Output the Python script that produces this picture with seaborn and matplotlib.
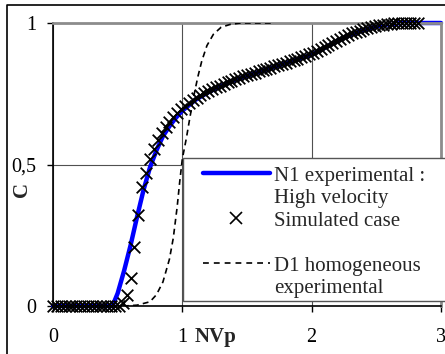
import matplotlib
matplotlib.use("Agg")
import matplotlib.pyplot as plt
from matplotlib.lines import Line2D
from matplotlib.patches import Rectangle
import seaborn as sns

# N1 experimental curve (high velocity)
n1_nvp = [0.00, 0.46, 0.50, 0.55, 0.60, 0.65, 0.70, 0.75, 0.80, 0.85, 0.90,
          0.95, 1.00, 1.10, 1.20, 1.30, 1.40, 1.50, 1.60, 1.70, 1.80, 1.90,
          2.00, 2.10, 2.20, 2.30, 2.40, 2.50, 2.60, 2.70, 3.00]
n1_c = [0.000, 0.000, 0.045, 0.125, 0.215, 0.315, 0.410, 0.490, 0.550, 0.600,
        0.635, 0.665, 0.690, 0.728, 0.755, 0.778, 0.797, 0.813, 0.828, 0.843,
        0.858, 0.873, 0.888, 0.912, 0.937, 0.958, 0.975, 0.988, 0.996, 1.000,
        1.000]

# Simulated case
sim_nvp = [0.00, 0.03, 0.06, 0.09, 0.12, 0.15, 0.18, 0.21, 0.24, 0.27, 0.30,
           0.33, 0.36, 0.39, 0.42, 0.45, 0.48, 0.51, 0.54, 0.57, 0.60, 0.63,
           0.66, 0.69, 0.72, 0.75, 0.78, 0.81, 0.84, 0.87, 0.90, 0.93, 0.96,
           0.99, 1.02, 1.05, 1.08, 1.11, 1.14, 1.17, 1.20, 1.23, 1.26, 1.29,
           1.32, 1.35, 1.38, 1.41, 1.44, 1.47, 1.50, 1.53, 1.56, 1.59, 1.62,
           1.65, 1.68, 1.71, 1.74, 1.77, 1.80, 1.83, 1.86, 1.89, 1.92, 1.95,
           1.98, 2.01, 2.04, 2.07, 2.10, 2.13, 2.16, 2.19, 2.22, 2.25, 2.28,
           2.31, 2.34, 2.37, 2.40, 2.43, 2.46, 2.49, 2.52, 2.55, 2.58, 2.61,
           2.64, 2.67, 2.70, 2.73, 2.76, 2.79, 2.82]
sim_c = [0.000, 0.000, 0.000, 0.000, 0.000, 0.000, 0.000, 0.000, 0.000, 0.000,
         0.000, 0.000, 0.000, 0.000, 0.000, 0.000, 0.000, 0.000, 0.010, 0.040,
         0.100, 0.210, 0.320, 0.420, 0.470, 0.520, 0.555, 0.585, 0.610, 0.632,
         0.650, 0.667, 0.682, 0.697, 0.708, 0.718, 0.728, 0.736, 0.744, 0.752,
         0.759, 0.766, 0.773, 0.779, 0.785, 0.791, 0.796, 0.801, 0.806, 0.811,
         0.815, 0.820, 0.824, 0.829, 0.833, 0.838, 0.842, 0.847, 0.851, 0.856,
         0.860, 0.865, 0.869, 0.874, 0.879, 0.884, 0.889, 0.895, 0.902, 0.909,
         0.916, 0.924, 0.931, 0.938, 0.945, 0.951, 0.957, 0.963, 0.968, 0.973,
         0.978, 0.982, 0.986, 0.989, 0.992, 0.994, 0.996, 0.998, 0.999, 1.000,
         1.000, 1.000, 1.000, 1.000, 1.000]

# D1 homogeneous experimental curve
d1_nvp = [0.00, 0.55, 0.65, 0.75, 0.80, 0.85, 0.90, 0.93, 0.96, 0.98, 1.00,
          1.03, 1.06, 1.09, 1.12, 1.15, 1.19, 1.24, 1.30, 1.37, 1.45, 1.70]
d1_c = [0.000, 0.000, 0.003, 0.015, 0.040, 0.085, 0.165, 0.240, 0.350, 0.440,
        0.520, 0.590, 0.670, 0.745, 0.810, 0.865, 0.920, 0.960, 0.985, 0.995,
        1.000, 1.000]

x_ticks = [0, 1, 2, 3]
x_tick_labels = ["0", "1", "2", "3"]
y_ticks = [0, 0.5, 1]
y_tick_labels = ["0", "0,5", "1"]

sns.set_style("ticks")
plt.rcParams["font.family"] = ["Liberation Serif", "DejaVu Serif"]

W, H = 445, 354
fig = plt.figure(figsize=(W / 100, H / 100), dpi=100)
ax = fig.add_axes([53 / W, 1 - 306 / H, 388 / W, 283 / H])

sns.lineplot(x=n1_nvp, y=n1_c, color="#0000ff", lw=3.2, estimator=None,
             sort=False, ax=ax, zorder=2, clip_on=False)
sns.scatterplot(x=sim_nvp, y=sim_c, marker="x", color="black", s=70,
                linewidth=1.3, ax=ax, zorder=3, clip_on=False)
sns.lineplot(x=d1_nvp, y=d1_c, color="black", lw=1.2, linestyle=(0, (3.5, 2.5)),
             estimator=None, sort=False, ax=ax, zorder=4)

ax.set_xlim(0, 3)
ax.set_ylim(0, 1)
ax.set_xticks(x_ticks, x_tick_labels)
ax.set_yticks(y_ticks, y_tick_labels)
ax.tick_params(direction="out", length=4.5, width=1, color="black",
               labelsize=14.5, labelcolor="black")
ax.tick_params(axis="x", pad=11)
ax.tick_params(axis="y", pad=7.5)

ax.grid(True, color="#505050", lw=0.8)
ax.set_axisbelow(True)
for side in ("left", "bottom"):
    ax.spines[side].set_color("black")
    ax.spines[side].set_linewidth(1.2)
for side in ("top", "right"):
    ax.spines[side].set_color("#8c8c8c")
    ax.spines[side].set_linewidth(2)
    ax.spines[side].set_visible(True)

ax.set_xlabel("NVp", fontsize=15, fontweight="bold")
ax.xaxis.set_label_coords(0.418, -0.075)
ax.set_ylabel("C", fontsize=15, fontweight="bold")
ax.yaxis.set_label_coords(-0.054, 0.413)

# legend box, wider than the figure so its right side runs off the edge
fig.add_artist(Rectangle((183 / W, 1 - 301 / H), (480 - 183) / W, (301 - 158) / H,
                         transform=fig.transFigure, facecolor="white",
                         edgecolor="#555555", lw=1, zorder=10))
blank = Line2D([], [], linestyle="none")
handles = [
    Line2D([], [], color="#0000ff", lw=3.2),
    blank,
    Line2D([], [], color="black", marker="x", linestyle="none",
           markersize=8.5, markeredgewidth=1.2),
    blank,
    Line2D([], [], color="black", lw=1.2, linestyle=(0, (3.5, 3))),
    blank,
]
labels = ["N1 experimental :", "High velocity", "Simulated case", " ",
          "D1 homogeneous", "experimental"]
leg = fig.legend(handles, labels, loc="upper left",
                 bbox_to_anchor=(203 / W, 1 - 166 / H), frameon=False,
                 handlelength=3.2, handletextpad=0.2, labelspacing=0.14,
                 borderpad=0, borderaxespad=0, fontsize=15)
leg.set_zorder(11)

# outer frame
fig.add_artist(Line2D([7 / W, 7 / W, 1.01], [-0.01, 1 - 5 / H, 1 - 5 / H],
                      transform=fig.transFigure, color="black", lw=1.2))

fig.savefig("out.png", dpi=100)
